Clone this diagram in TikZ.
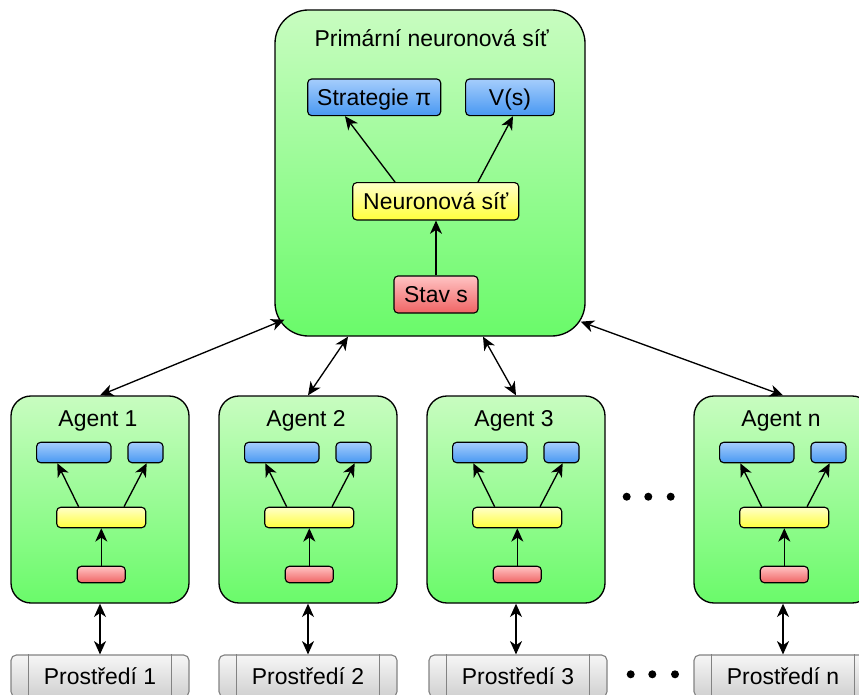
\documentclass[tikz,border=0pt]{standalone}
\usepackage{fontspec}
\setmainfont{Liberation Sans}
\usetikzlibrary{arrows.meta}
\definecolor{greentop}{RGB}{200,252,192}
\definecolor{greenbot}{RGB}{106,250,106}
\definecolor{bluetop}{RGB}{165,205,252}
\definecolor{bluebot}{RGB}{72,152,242}
\definecolor{yellowtop}{RGB}{255,255,200}
\definecolor{yellowbot}{RGB}{255,255,60}
\definecolor{redtop}{RGB}{255,195,195}
\definecolor{redbot}{RGB}{240,100,100}
\definecolor{graytop}{RGB}{246,246,246}
\definecolor{graybot}{RGB}{208,208,208}
\definecolor{grayline}{RGB}{130,130,130}
\begin{document}
\begin{tikzpicture}[x=0.75pt,y=-0.75pt,
  lbl/.style={font=\fontsize{17.2}{19}\selectfont},
  box/.style={draw=black, line width=0.85pt, rounded corners=3pt, inner sep=0pt,
    lbl, text height=12.3pt, text depth=0pt},
  greenbox/.style={draw=black, line width=1pt, top color=greentop, bottom color=greenbot, inner sep=0pt},
  bluebox/.style={box, top color=bluetop, bottom color=bluebot},
  yellowbox/.style={box, top color=yellowtop, bottom color=yellowbot},
  redbox/.style={box, top color=redtop, bottom color=redbot},
  envbox/.style={box, draw=grayline, rounded corners=4pt, top color=graytop, bottom color=graybot},
  arr/.style={-{Stealth[length=10pt,width=9pt,inset=3pt]}, line width=1pt},
  darr/.style={{Stealth[length=10pt,width=9pt,inset=3pt]}-{Stealth[length=10pt,width=9pt,inset=3pt]}, line width=1pt}]
\useasboundingbox (0,0) rectangle (859,695);
\clip (0,0) rectangle (859,695);

% primary network
\node[greenbox, rounded corners=25pt, minimum width=232.5pt, minimum height=244.5pt] (main) at (430,173) {};
\node[lbl, anchor=base] (mtitle) at (431.7,46.7) {Primární neuronová síť};
\node[bluebox, minimum width=99.75pt, minimum height=27.5pt] (strat) at (374.2,97.3) {Strategie π};
\node[bluebox, minimum width=66.5pt, minimum height=27.5pt] (vs) at (510,97.3) {V(s)};
\node[yellowbox, minimum width=124.5pt, minimum height=28pt] (nn) at (435.7,201.3) {Neuronová síť};
\node[redbox, minimum width=63pt, minimum height=27.75pt] (stav) at (436,294.5) {Stav s};
\draw[arr] ([xshift=-30.5pt]nn.north) -- ([xshift=-21.9pt]strat.south);
\draw[arr] ([xshift=31.7pt]nn.north) -- ([xshift=2.25pt]vs.south);
\draw[arr] (stav.north) -- (stav.north |- nn.south);

% agents and environments
\foreach \ox/\ex/\n in {0/0/1, 208/208/2, 416/418/3, 683/683/n}{
  \node[greenbox, rounded corners=15pt, minimum width=133.5pt, minimum height=155.25pt] (a\n) at (\ox+100,499.5) {};
  \node[lbl, anchor=base] (t\n) at (\ox+98,426.7) {Agent \n};
  \node[bluebox, minimum width=55.7pt, minimum height=15.3pt] (p\n) at (\ox+73.8,452.5) {};
  \node[bluebox, minimum width=26.25pt, minimum height=15.3pt] (v\n) at (\ox+145.5,452.5) {};
  \node[yellowbox, minimum width=66.75pt, minimum height=15.3pt] (y\n) at (\ox+101.2,517.5) {};
  \node[redbox, minimum width=36pt, minimum height=11.7pt] (r\n) at (\ox+101.3,574.5) {};
  \draw[arr] ([xshift=-16.9pt]y\n.north) -- ([xshift=-12.4pt]p\n.south);
  \draw[arr] ([xshift=17.1pt]y\n.north) -- ([xshift=0.9pt]v\n.south);
  \draw[arr] (r\n.north) -- (r\n.north |- y\n.south);
  \node[envbox, minimum width=133.5pt, minimum height=31.5pt] (e\n) at (\ex+100,676) {Prostředí \n};
  \draw[grayline, line width=0.85pt] ([xshift=13.5pt]e\n.north west) -- ([xshift=13.5pt]e\n.south west);
  \draw[grayline, line width=0.85pt] ([xshift=-13.5pt]e\n.north east) -- ([xshift=-13.5pt]e\n.south east);
  \draw[darr] (a\n.south) -- (a\n.south |- e\n.north);
}

% connections main <-> agents
\draw[darr] (a1.north) -- ([xshift=7.5pt,yshift=12.75pt]main.south west);
\draw[darr] (a2.north) -- ([xshift=-61.5pt]main.south);
\draw[darr] (a3.north) -- ([xshift=39.75pt]main.south);
\draw[darr] (an.north) -- ([xshift=-3.75pt,yshift=11.25pt]main.south east);

% ellipsis dots
\foreach \dx in {626.7,648.3,670.7}{ \fill (\dx,496.7) circle (3pt); }
\foreach \dx in {630.7,652.3,675}{ \fill (\dx,674.3) circle (3pt); }
\end{tikzpicture}
\end{document}
